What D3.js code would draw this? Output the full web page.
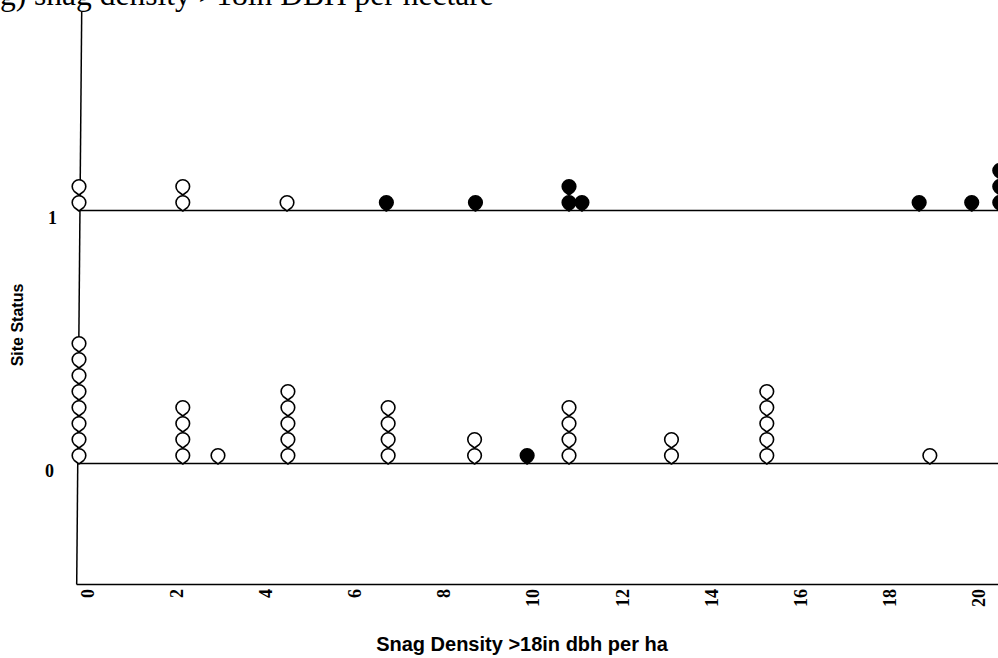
<!DOCTYPE html>
<html>
<head>
<meta charset="utf-8">
<script src="https://cdn.jsdelivr.net/npm/d3@7"></script>
<style>
  html, body { margin: 0; padding: 0; background: #fff; }
  svg { display: block; }
</style>
</head>
<body>
<svg id="chart" width="998" height="658"></svg>
<script>
// ---- data ----
const titleText = "g) snag density >18in DBH per hectare";
const xTitle = "Snag Density >18in dbh per ha";
const yTitle = "Site Status";
const xTickValues = [0, 2, 4, 6, 8, 10, 12, 14, 16, 18, 20];
const yTickValues = [0, 1];

// one entry per stack of points
const densities = [0, 2.33, 4.67, 6.9, 8.9, 11.0, 11.29, 18.86, 20.04, 20.67,
                   0, 2.33, 3.12, 4.69, 6.94, 8.88, 10.06, 11.0, 13.3, 15.44, 19.1, 20.83];
const statuses  = [1, 1, 1, 1, 1, 1, 1, 1, 1, 1,
                   0, 0, 0, 0, 0, 0, 0, 0, 0, 0, 0, 0];
const counts    = [2, 2, 1, 1, 1, 2, 1, 1, 1, 3,
                   8, 4, 1, 5, 4, 2, 1, 4, 2, 5, 1, 1];
const filled    = [0, 0, 0, 1, 1, 1, 1, 1, 1, 1,
                   0, 0, 0, 0, 0, 0, 1, 0, 0, 0, 0, 0];

// ---- layout ----
const svg = d3.select("#chart");
const x = d3.scaleLinear().domain([0, 20.63]).range([79, 998]);
const y = d3.scaleLinear().domain([0, 1]).range([463.5, 210.5]);
const axisTop = 12, axisBottom = 584.5;
const axisXTop = 81.7, axisXBottom = 76.7;

// title (clipped at top, as in the reference)
svg.append("text")
  .attr("x", 0).attr("y", 5)
  .attr("font-family", "'Liberation Serif', 'Times New Roman', serif")
  .attr("font-size", 31.5)
  .attr("fill", "#000")
  .text(titleText);

// left axis (slightly slanted as in the reference)
svg.append("line")
  .attr("x1", axisXTop).attr("y1", axisTop)
  .attr("x2", axisXBottom).attr("y2", axisBottom)
  .attr("stroke", "#000").attr("stroke-width", 1.5);

// bottom axis
svg.append("line")
  .attr("x1", axisXBottom).attr("y1", axisBottom)
  .attr("x2", 998).attr("y2", axisBottom)
  .attr("stroke", "#000").attr("stroke-width", 1.5);

// reference lines at status 0 and 1
svg.selectAll("line.ref").data(yTickValues).join("line")
  .attr("class", "ref")
  .attr("x1", 80).attr("x2", 998)
  .attr("y1", d => y(d)).attr("y2", d => y(d))
  .attr("stroke", "#000").attr("stroke-width", 1.3);

// y tick labels
svg.selectAll("text.ytick").data(yTickValues).join("text")
  .attr("class", "ytick")
  .attr("x", d => d === 1 ? 57 : 54)
  .attr("y", d => y(d) + 13)
  .attr("text-anchor", "end")
  .attr("font-family", "'Liberation Serif', 'Times New Roman', serif")
  .attr("font-weight", "bold")
  .attr("font-size", 18)
  .text(d => d);

// x tick labels (rotated)
svg.selectAll("text.xtick").data(xTickValues).join("text")
  .attr("class", "xtick")
  .attr("transform", d => `translate(${x(d) + 15},589) rotate(-90)`)
  .attr("text-anchor", "end")
  .attr("font-family", "'Liberation Serif', 'Times New Roman', serif")
  .attr("font-weight", "bold")
  .attr("font-size", 18)
  .text(d => d);

// axis titles
svg.append("text")
  .attr("x", 522).attr("y", 651)
  .attr("text-anchor", "middle")
  .attr("font-family", "'Liberation Sans', Arial, sans-serif")
  .attr("font-weight", "bold")
  .attr("font-size", 20)
  .text(xTitle);

svg.append("text")
  .attr("transform", "translate(23,325) rotate(-90)")
  .attr("text-anchor", "middle")
  .attr("font-family", "'Liberation Sans', Arial, sans-serif")
  .attr("font-weight", "bold")
  .attr("font-size", 16)
  .text(yTitle);

// expand stacks into points
const points = [];
densities.forEach((d, k) => {
  for (let i = 0; i < counts[k]; i++) {
    points.push({ density: d, status: statuses[k], stack: i, filled: filled[k] });
  }
});

// marker: round with a small point at the bottom
const r = 6.8;
const c = r * Math.SQRT1_2;
const markerPath = `M0,${r * 1.25} L${-c},${c} A${r},${r} 0 1 1 ${c},${c} Z`;
const stackStep = 16, baseOffset = 8;

svg.append("g").selectAll("path").data(points).join("path")
  .attr("d", markerPath)
  .attr("transform", p => `translate(${x(p.density)},${y(p.status) - baseOffset - stackStep * p.stack})`)
  .attr("fill", p => p.filled ? "#000" : "#fff")
  .attr("stroke", "#000")
  .attr("stroke-width", 1.6)
  .attr("stroke-linejoin", "round");
</script>
</body>
</html>
